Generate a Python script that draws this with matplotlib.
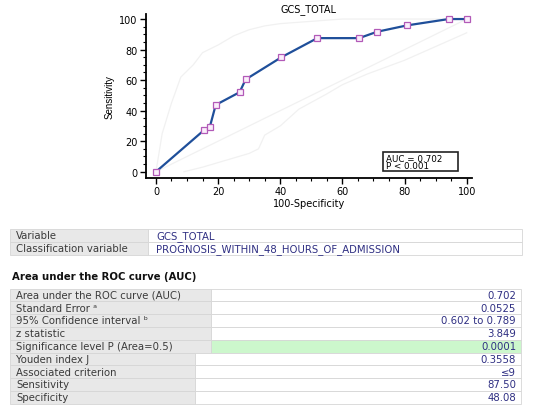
import matplotlib
matplotlib.use('Agg')
import matplotlib.pyplot as plt
from matplotlib.patches import Rectangle
from matplotlib.ticker import MultipleLocator

plt.rcParams['font.family'] = ['DejaVu Sans']

# ROC points (100-Specificity, Sensitivity)
fpr = [0, 15.38, 17.31, 19.23, 26.92, 28.85, 40.38, 51.92, 65.38, 71.15, 80.77, 94.23, 100]
tpr = [0, 27.08, 29.17, 43.75, 52.08, 60.42, 75.0, 87.5, 87.5, 91.67, 95.83, 100, 100]

# faint confidence band curves
ci_hi_x = [0, 2, 5, 8, 12, 15, 20, 25, 30, 35, 40, 50, 60, 100]
ci_hi_y = [0, 25, 45, 62, 70, 78, 83, 89, 93, 95.5, 97, 98.5, 100, 100]
ci_lo_x = [9, 15, 20, 25, 30, 33, 35, 40, 46, 55, 60, 68, 80, 90, 100]
ci_lo_y = [0, 3, 6, 9, 12, 15, 24, 30, 41, 51, 57, 64, 73, 82, 91]

info_labels = ['Variable', 'Classification variable']
info_values = ['GCS_TOTAL', 'PROGNOSIS_WITHIN_48_HOURS_OF_ADMISSION']

auc_labels = ['Area under the ROC curve (AUC)', 'Standard Error \u1d43',
              '95% Confidence interval \u1d47', 'z statistic',
              'Significance level P (Area=0.5)', 'Youden index J',
              'Associated criterion', 'Sensitivity', 'Specificity']
auc_values = ['0.702', '0.0525', '0.602 to 0.789', '3.849', '0.0001',
              '0.3558', '\u22649', '87.50', '48.08']

W, H = 533, 414
fig = plt.figure(figsize=(W / 100, H / 100), dpi=100)


def fx(x):
    return x / W


def fy(y):
    return 1 - y / H


ax_l, ax_r, ax_t, ax_b = 145.7, 472, 15, 179
ax = fig.add_axes([fx(ax_l), fy(ax_b), (ax_r - ax_l) / W, (ax_b - ax_t) / H])
ax.plot([0, 100], [0, 100], color='#f1f1f1', lw=0.9, zorder=1)
ax.plot(ci_hi_x, ci_hi_y, color='#f1f1f1', lw=0.9, zorder=1)
ax.plot(ci_lo_x, ci_lo_y, color='#f1f1f1', lw=0.9, zorder=1)
ax.plot(fpr, tpr, color='#1f4f9a', lw=1.6, marker='s', ms=4.5,
        mfc='#fbeefb', mec='#b25ab8', mew=0.9, zorder=3)
ax.set_xlim(-3.3, 101.7)
ax.set_ylim(-4.1, 103.3)
ax.xaxis.set_major_locator(MultipleLocator(20))
ax.yaxis.set_major_locator(MultipleLocator(20))
ax.xaxis.set_minor_locator(MultipleLocator(5))
ax.yaxis.set_minor_locator(MultipleLocator(5))
for s in ['top', 'right']:
    ax.spines[s].set_visible(False)
for s in ['left', 'bottom']:
    ax.spines[s].set_linewidth(1.3)
ax.tick_params(which='major', length=4, width=1, labelsize=7, pad=2)
ax.tick_params(which='minor', length=2, width=0.8)
ax.set_title('GCS_TOTAL', fontsize=7, pad=2)
ax.set_xlabel('100-Specificity', fontsize=7, labelpad=1)
ax.set_ylabel('Sensitivity', fontsize=7, labelpad=3,
              family=['Liberation Sans Narrow', 'Liberation Sans'])


def axx(px):
    return (px - ax_l) / (ax_r - ax_l)


def axy(py):
    return (ax_b - py) / (ax_b - ax_t)


# AUC box
ax.add_patch(Rectangle((axx(382.7), axy(172)), axx(458.5) - axx(382.7), axy(153) - axy(172),
                       transform=ax.transAxes, fc='white', ec='#222222', lw=1.2,
                       zorder=4, clip_on=False))
ax.text(axx(386.5), axy(159.3), 'AUC = 0.702', transform=ax.transAxes, fontsize=6.3,
        va='center', ha='left', zorder=5)
ax.text(axx(386.5), axy(166.8), 'P < 0.001', transform=ax.transAxes, fontsize=6.3,
        va='center', ha='left', zorder=5)

lab_col = '#3a3a3a'
val_col = '#2e2e82'
fs = 7.3


def cell(x0, y0, x1, y1, color):
    fig.patches.append(Rectangle((fx(x0), fy(y1)), (x1 - x0) / W, (y1 - y0) / H,
                                 transform=fig.transFigure, fc=color,
                                 ec='#d6d6d6', lw=0.6))


# variable table
rh = 13
top = 230
for i, (lab, val) in enumerate(zip(info_labels, info_values)):
    y0 = top + i * rh
    cell(10, y0, 148, y0 + rh, '#e8e8e8')
    cell(148, y0, 522, y0 + rh, 'white')
    fig.text(fx(16), fy(y0 + rh / 2), lab, fontsize=fs, color=lab_col, va='center')
    fig.text(fx(156), fy(y0 + rh / 2), val, fontsize=fs, color=val_col, va='center')

fig.text(fx(12), fy(277), 'Area under the ROC curve (AUC)', fontsize=fs,
         fontweight='bold', color='#111111', va='center')

# AUC table
rh2 = 12.8
top2 = 289.5
for i, (lab, val) in enumerate(zip(auc_labels, auc_values)):
    y0 = top2 + i * rh2
    split = 211 if i < 5 else 195
    cell(10, y0, split, y0 + rh2, '#e8e8e8')
    cell(split, y0, 521, y0 + rh2, '#ccf7cc' if i == 4 else 'white')
    fig.text(fx(16), fy(y0 + rh2 / 2), lab, fontsize=fs, color=lab_col, va='center')
    fig.text(fx(516), fy(y0 + rh2 / 2), val, fontsize=fs, color=val_col,
             va='center', ha='right')

fig.savefig('out.png', dpi=100)
